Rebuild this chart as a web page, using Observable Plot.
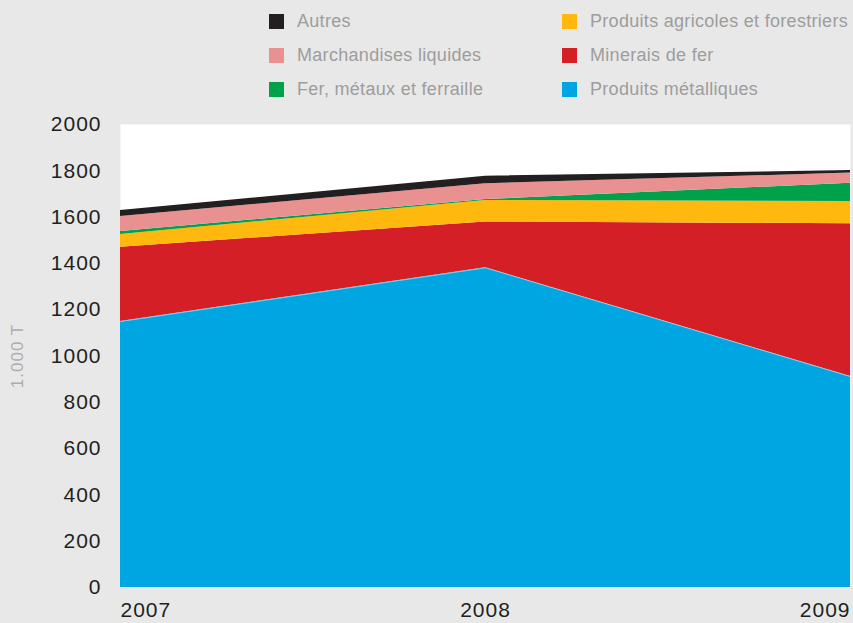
<!DOCTYPE html>
<html>
<head>
<meta charset="utf-8">
<script src="https://cdn.jsdelivr.net/npm/d3@7"></script>
<script src="https://cdn.jsdelivr.net/npm/@observablehq/plot@0.6"></script>
<style>
  html, body { margin: 0; padding: 0; background: #e8e8e8; }
  body { width: 853px; height: 623px; overflow: hidden; font-family: "Liberation Sans", Arial, Helvetica, sans-serif; }
  #legend { position: relative; height: 110px; }
  .item { position: absolute; display: flex; align-items: center; color: #9d9d9d; font-size: 18px; letter-spacing: 0.3px; white-space: nowrap; }
  .sw { width: 15px; height: 15px; margin-right: 13px; flex: none; }
  #chart svg { display: block; }
</style>
</head>
<body>
<div id="legend"></div>
<div id="chart"></div>
<script>
const years = [2007, 2008, 2009];
const series = ["Produits métalliques", "Minerais de fer", "Produits agricoles et forestriers", "Fer, métaux et ferraille", "Marchandises liquides", "Autres"];
const colors = ["#00a6e2", "#d51f26", "#ffb80d", "#00a14b", "#e89190", "#231f20"];
const produitsMetalliques = [1149, 1381, 911];
const mineraisDeFer = [321, 198, 660];
const produitsAgricoles = [55, 93, 96];
const ferMetaux = [13, 4, 79];
const marchandisesLiquides = [65, 68, 44];
const autres = [25, 33, 11];
const yTicks = [0, 200, 400, 600, 800, 1000, 1200, 1400, 1600, 1800, 2000];
const yLabel = "1.000 T";

const valuesBySeries = [produitsMetalliques, mineraisDeFer, produitsAgricoles, ferMetaux, marchandisesLiquides, autres];
const data = [];
series.forEach((s, i) => years.forEach((y, j) => data.push({year: y, series: s, value: valuesBySeries[i][j]})));
const blueTop = years.map((y, j) => ({year: y, value: produitsMetalliques[j]}));

// Legend (two columns)
const legendOrder = [
  ["Autres", 269, 21.5], ["Marchandises liquides", 269, 55.5], ["Fer, métaux et ferraille", 269, 89.5],
  ["Produits agricoles et forestriers", 562, 21.5], ["Minerais de fer", 562, 55.5], ["Produits métalliques", 562, 89.5]
];
const legend = document.getElementById("legend");
legendOrder.forEach(([name, left, cy]) => {
  const d = document.createElement("div");
  d.className = "item";
  d.style.left = left + "px";
  d.style.top = (cy - 11) + "px";
  d.style.height = "22px";
  const sw = document.createElement("span");
  sw.className = "sw";
  sw.style.background = colors[series.indexOf(name)];
  d.appendChild(sw);
  const t = document.createElement("span");
  t.textContent = name;
  d.appendChild(t);
  legend.appendChild(d);
});

const axisCommon = {tickSize: 0, tickPadding: 15, tickFormat: d => String(d), label: null};
const chart = Plot.plot({
  width: 853,
  height: 513,
  marginTop: 14,
  marginBottom: 36,
  marginLeft: 120,
  marginRight: 3,
  style: {background: "transparent", fontSize: "21px", fontFamily: "'Liberation Sans', Arial, Helvetica, sans-serif", color: "#231f20", letterSpacing: "1px"},
  x: {domain: [2007, 2009], axis: null},
  y: {domain: [0, 2000], axis: null},
  color: {domain: series, range: colors},
  marks: [
    Plot.frame({fill: "white", stroke: null}),
    Plot.areaY(data, {x: "year", y: "value", fill: "series", order: series}),
    Plot.lineY(blueTop, {x: "year", y: "value", stroke: "white", strokeWidth: 0.8, strokeOpacity: 0.6}),
    Plot.axisY({ticks: yTicks, tickSize: 0, tickPadding: 19, label: null, tickFormat: d => String(d)}),
    Plot.axisX({...axisCommon, ticks: [years[0]], textAnchor: "start"}),
    Plot.axisX({...axisCommon, ticks: [years[1]], textAnchor: "middle"}),
    Plot.axisX({...axisCommon, ticks: [years[2]], textAnchor: "end"}),
    Plot.text([yLabel], {frameAnchor: "left", text: d => d, rotate: -90, dx: -103, fill: "#adadad", fontSize: 17, textAnchor: "middle"})
  ]
});
document.getElementById("chart").appendChild(chart);
</script>
</body>
</html>
